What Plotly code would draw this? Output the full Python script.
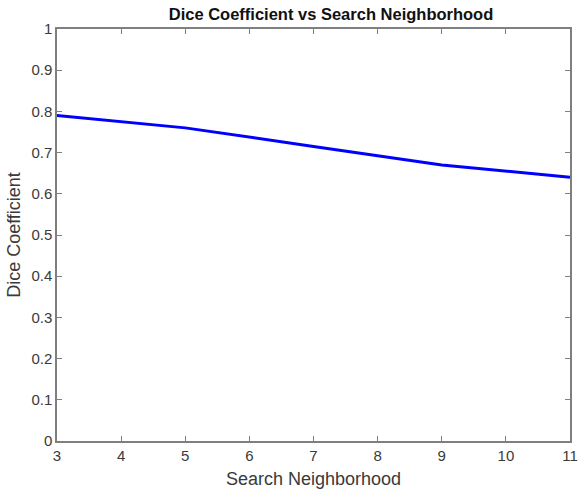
import plotly.graph_objects as go

# Dice coefficient measured for each search-neighborhood size
neighborhood = [3, 5, 7, 9, 11]
dice = [0.79, 0.76, 0.715, 0.67, 0.64]

x_ticks = [3, 4, 5, 6, 7, 8, 9, 10, 11]
y_ticks = [0, 0.1, 0.2, 0.3, 0.4, 0.5, 0.6, 0.7, 0.8, 0.9, 1]
y_tick_text = ["0", "0.1", "0.2", "0.3", "0.4", "0.5", "0.6", "0.7", "0.8", "0.9", "1"]

FONT = "Liberation Sans, Arial, Helvetica, sans-serif"
AXIS_COLOR = "#7f7f7f"
TEXT_COLOR = "#3a3a3a"

fig = go.Figure()
fig.add_trace(go.Scatter(
    x=neighborhood, y=dice, mode="lines",
    line=dict(color="#0000ff", width=3),
    showlegend=False, hoverinfo="x+y",
))

axis_common = dict(
    showline=True, linecolor=AXIS_COLOR, linewidth=1.5, mirror="ticks",
    ticks="inside", ticklen=5, tickwidth=1, tickcolor=AXIS_COLOR,
    showgrid=False, zeroline=False,
    tickfont=dict(family=FONT, size=15, color=TEXT_COLOR),
)

fig.update_layout(
    width=585, height=493,
    margin=dict(l=57, r=7, t=29, b=52),
    paper_bgcolor="white", plot_bgcolor="white",
    title=dict(
        text="<b>Dice Coefficient vs Search Neighborhood</b>",
        font=dict(family=FONT, size=16.5, color="#111111"),
        x=331 / 585, xanchor="center",
        y=1 - 14 / 493, yanchor="middle",
    ),
    xaxis=dict(
        range=[3, 11], tickvals=x_ticks,
        title=dict(text="Search Neighborhood", standoff=10,
                   font=dict(family=FONT, size=18, color=TEXT_COLOR)),
        **axis_common,
    ),
    yaxis=dict(
        range=[0, 1], tickvals=y_ticks, ticktext=y_tick_text,
        title=dict(text="Dice Coefficient", standoff=6,
                   font=dict(family=FONT, size=18, color=TEXT_COLOR)),
        **axis_common,
    ),
)

fig.write_html("out.html")
